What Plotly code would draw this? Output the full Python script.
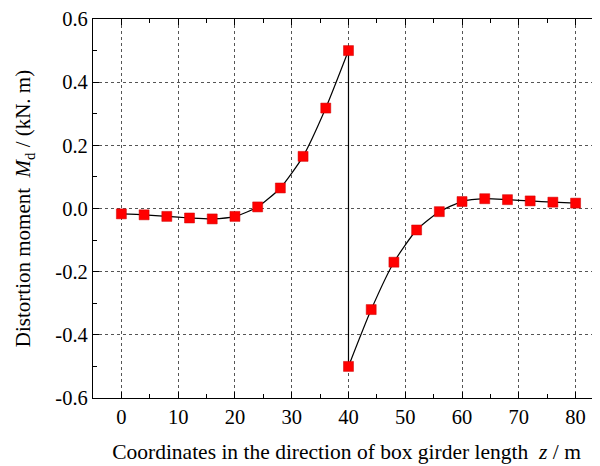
import plotly.graph_objects as go

z_left = [0, 4, 8, 12, 16, 20, 24, 28, 32, 36, 40]
md_left = [-0.017, -0.02, -0.025, -0.03, -0.033, -0.025, 0.005, 0.065, 0.165, 0.318, 0.5]
z_right = [40, 44, 48, 52, 56, 60, 64, 68, 72, 76, 80]
md_right = [-0.5, -0.32, -0.17, -0.068, -0.01, 0.022, 0.031, 0.028, 0.024, 0.02, 0.017]

x_ticks = [0, 10, 20, 30, 40, 50, 60, 70, 80]
y_ticks = [-0.6, -0.4, -0.2, 0.0, 0.2, 0.4, 0.6]
y_labels = ["-0.6", "-0.4", "-0.2", "0.0", "0.2", "0.4", "0.6"]

FONT = "Liberation Serif"
fig = go.Figure()
line_style = dict(color="black", width=1.2)
fig.add_trace(go.Scatter(x=z_left, y=md_left, mode="lines", line=dict(shape="spline", smoothing=0.6, **line_style), showlegend=False))
fig.add_trace(go.Scatter(x=z_right, y=md_right, mode="lines", line=dict(shape="spline", smoothing=0.6, **line_style), showlegend=False))
fig.add_trace(go.Scatter(x=[z_left[-1], z_right[0]], y=[md_left[-1], md_right[0]], mode="lines", line=line_style, showlegend=False))
fig.add_trace(go.Scatter(x=z_left + z_right, y=md_left + md_right, mode="markers",
                         marker=dict(symbol="square", size=10, color="#ff0000", line=dict(color="#cc0000", width=0.5)),
                         showlegend=False))

axis_common = dict(showline=True, linecolor="black", linewidth=1.2, mirror="allticks",
                   ticks="inside", ticklen=6, tickcolor="black", tickwidth=1,
                   showgrid=True, gridcolor="#555555", griddash="dot", gridwidth=1,
                   zeroline=False, automargin=False, ticklabeloverflow="allow",
                   tickfont=dict(family=FONT, size=20.5, color="black"))
fig.update_xaxes(range=[-5, 84.3], tickvals=x_ticks,
                 minor=dict(dtick=5, tick0=0, ticks="inside", ticklen=4, tickcolor="black", showgrid=False),
                 title=dict(text="Coordinates in the direction of box girder length  <i>z</i> / m",
                            font=dict(family=FONT, size=21.5, color="black"), standoff=17),
                 **axis_common)
fig.update_yaxes(range=[-0.6, 0.6], tickvals=y_ticks, ticktext=y_labels,
                 minor=dict(dtick=0.1, tick0=0, ticks="inside", ticklen=4, tickcolor="black", showgrid=False),
                 title=dict(text="Distortion moment  <i>M</i><sub>d</sub> / (kN. m)",
                            font=dict(family=FONT, size=21, color="black"), standoff=18),
                 **axis_common)
fig.update_layout(width=592, height=458, margin=dict(l=85, r=0, t=11, b=68),
                  plot_bgcolor="white", paper_bgcolor="white")
fig.write_html("out.html")
